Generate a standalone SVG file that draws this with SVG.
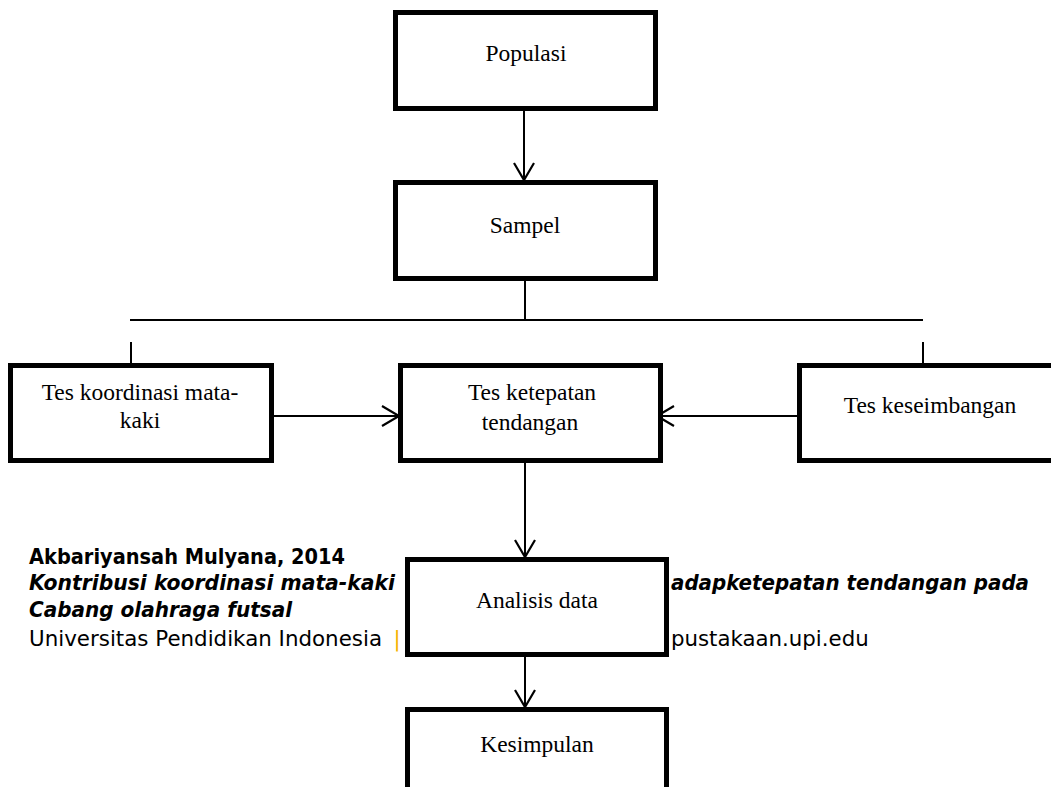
<svg xmlns="http://www.w3.org/2000/svg" width="1051" height="787" viewBox="0 0 1051 787">
<style>
.box{fill:#fff;stroke:#000;stroke-width:5}
.lbl{font-family:"Liberation Serif","Times New Roman",serif;font-size:23.5px;fill:#000;text-anchor:middle}
.con{fill:none;stroke:#000;stroke-width:2}
.fb{font-family:"DejaVu Sans Condensed","DejaVu Sans",sans-serif;font-size:21px;font-weight:bold;fill:#000}
.fr{font-family:"DejaVu Sans",sans-serif;font-size:21.3px;fill:#000}
</style>
<defs>
<marker id="ah" markerUnits="userSpaceOnUse" markerWidth="24" markerHeight="24" viewBox="-20 -12 24 24" refX="0" refY="0" orient="auto" overflow="visible">
<path d="M-17,-10 L0,0 L-17,10" fill="none" stroke="#000" stroke-width="2.2"/>
</marker>
</defs>
<rect width="1051" height="787" fill="#fff"/>
<g id="footer">
<text class="fb" x="29" y="564" textLength="316" lengthAdjust="spacingAndGlyphs">Akbariyansah Mulyana, 2014</text>
<text class="fb" x="29" y="590" font-style="italic" textLength="366" lengthAdjust="spacingAndGlyphs">Kontribusi koordinasi mata-kaki</text>
<text class="fb" x="671" y="590" font-style="italic" textLength="358" lengthAdjust="spacingAndGlyphs">adapketepatan tendangan pada</text>
<text class="fb" x="29" y="617" font-style="italic" textLength="263" lengthAdjust="spacingAndGlyphs">Cabang olahraga futsal</text>
<text class="fr" x="29" y="646" textLength="353" lengthAdjust="spacingAndGlyphs">Universitas Pendidikan Indonesia</text>
<text class="fr" x="393.5" y="646" style="fill:#F5B301">|</text>
<text class="fr" x="671" y="646">pustakaan.upi.edu</text>
</g>
<g id="connectors">
<line class="con" x1="524" y1="111" x2="524" y2="180" marker-end="url(#ah)"/>
<line class="con" x1="525" y1="281" x2="525" y2="320"/>
<line class="con" x1="130" y1="320" x2="923" y2="320"/>
<line class="con" x1="131" y1="342" x2="131" y2="395" marker-end="url(#ah)"/>
<line class="con" x1="923" y1="342" x2="923" y2="388" marker-end="url(#ah)"/>
<line class="con" x1="274" y1="416" x2="399" y2="416" marker-end="url(#ah)"/>
<line class="con" x1="797" y1="416" x2="657" y2="416" marker-end="url(#ah)"/>
<line class="con" x1="525" y1="463" x2="525" y2="557" marker-end="url(#ah)"/>
<line class="con" x1="525" y1="657" x2="525" y2="707" marker-end="url(#ah)"/>
</g>
<g id="populasi">
<rect class="box" x="395.5" y="12.5" width="260" height="96"/>
<text class="lbl" x="526" y="61">Populasi</text>
</g>
<g id="sampel">
<rect class="box" x="395.5" y="182.5" width="260" height="96"/>
<text class="lbl" x="525" y="233">Sampel</text>
</g>
<g id="tes-koordinasi">
<rect class="box" x="10.5" y="365.5" width="261" height="95"/>
<text class="lbl" x="140" y="400">Tes koordinasi mata-</text>
<text class="lbl" x="140" y="428">kaki</text>
</g>
<g id="tes-ketepatan">
<rect class="box" x="400.5" y="365.5" width="260" height="95"/>
<text class="lbl" x="532" y="400">Tes ketepatan</text>
<text class="lbl" x="530" y="430">tendangan</text>
</g>
<g id="tes-keseimbangan">
<rect class="box" x="799.5" y="365.5" width="270" height="95"/>
<text class="lbl" x="930" y="413">Tes keseimbangan</text>
</g>
<g id="analisis">
<rect class="box" x="407.5" y="559.5" width="259" height="95"/>
<text class="lbl" x="537" y="608">Analisis data</text>
</g>
<g id="kesimpulan">
<rect class="box" x="407.5" y="709.5" width="259" height="120"/>
<text class="lbl" x="537" y="752">Kesimpulan</text>
</g>
</svg>
